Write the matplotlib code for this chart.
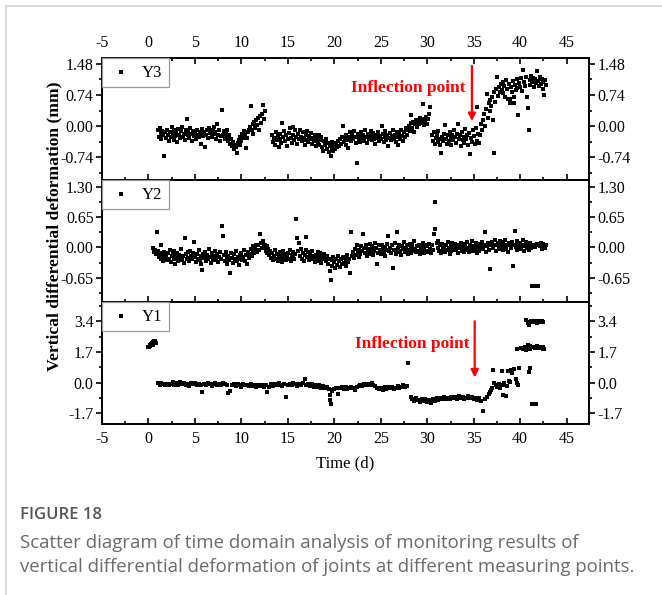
import matplotlib.pyplot as plt
from matplotlib.lines import Line2D
from matplotlib.ticker import MultipleLocator, FixedLocator, FormatStrFormatter

plt.rcParams['font.family'] = ['Liberation Serif', 'DejaVu Serif']
plt.rcParams['axes.unicode_minus'] = False

# ---- Y3 (top panel) ----
t_y3 = [
    1.0, 1.1, 1.2, 1.3, 1.4, 1.5, 1.6, 1.7, 1.8, 1.9,
    2.0, 2.1, 2.2, 2.3, 2.4, 2.5, 2.6, 2.7, 2.8, 2.9,
    3.0, 3.1, 3.2, 3.3, 3.4, 3.5, 3.6, 3.7, 3.8, 3.9,
    4.0, 4.1, 4.2, 4.3, 4.4, 4.5, 4.6, 4.7, 4.8, 4.9,
    5.0, 5.1, 5.2, 5.3, 5.4, 5.5, 5.6, 5.7, 5.8, 5.9,
    6.0, 6.1, 6.2, 6.3, 6.4, 6.5, 6.6, 6.7, 6.8, 6.9,
    7.0, 7.1, 7.2, 7.3, 7.4, 7.5, 7.6, 7.7, 7.8, 7.9,
    8.0, 8.1, 8.2, 8.3, 8.4, 8.5, 8.6, 8.7, 8.8, 8.9,
    9.0, 9.1, 9.2, 9.3, 9.4, 9.5, 9.6, 9.7, 9.8, 9.9,
    10.0, 10.1, 10.2, 10.3, 10.4, 10.5, 10.6, 10.7, 10.8, 10.9,
    11.0, 11.1, 11.2, 11.3, 11.4, 11.5, 11.6, 11.7, 11.8, 11.9,
    12.0, 12.1, 12.2, 12.3, 12.4, 12.5,
    13.3, 13.4, 13.5, 13.6, 13.7, 13.8, 13.9,
    14.0, 14.1, 14.2, 14.3, 14.4, 14.5, 14.6, 14.7, 14.8, 14.9,
    15.0, 15.1, 15.2, 15.3, 15.4, 15.5, 15.6, 15.7, 15.8, 15.9,
    16.0, 16.1, 16.2, 16.3, 16.4, 16.5, 16.6, 16.7, 16.8, 16.9,
    17.0, 17.1, 17.2, 17.3, 17.4, 17.5, 17.6, 17.7, 17.8, 17.9,
    18.0, 18.1, 18.2, 18.3, 18.4, 18.5, 18.6, 18.7, 18.8, 18.9,
    19.0, 19.1, 19.2, 19.3, 19.4, 19.5, 19.6, 19.7, 19.8, 19.9,
    20.0, 20.1, 20.2, 20.3, 20.4, 20.5, 20.6, 20.7, 20.8, 20.9,
    21.0, 21.1, 21.2, 21.3, 21.4, 21.5, 21.6, 21.7, 21.8, 21.9,
    22.0, 22.1, 22.2, 22.3, 22.4, 22.5, 22.6, 22.7, 22.8, 22.9,
    23.0, 23.1, 23.2, 23.3, 23.4, 23.5, 23.6, 23.7, 23.8, 23.9,
    24.0, 24.1, 24.2, 24.3, 24.4, 24.5, 24.6, 24.7, 24.8, 24.9,
    25.0, 25.1, 25.2, 25.3, 25.4, 25.5, 25.6, 25.7, 25.8, 25.9,
    26.0, 26.1, 26.2, 26.3, 26.4, 26.5, 26.6, 26.7, 26.8, 26.9,
    27.0, 27.1, 27.2, 27.3, 27.4, 27.5, 27.6, 27.7, 27.8, 27.9,
    28.0, 28.1, 28.2, 28.3, 28.4, 28.5, 28.6, 28.7, 28.8, 28.9,
    29.0, 29.1, 29.2, 29.3, 29.4, 29.5, 29.6, 29.7, 29.8, 29.9,
    30.0, 30.1, 30.2, 30.3,
    30.5, 30.6, 30.7, 30.8, 30.9,
    31.0, 31.1, 31.2, 31.3, 31.4, 31.5, 31.6, 31.7, 31.8, 31.9,
    32.0, 32.1, 32.2, 32.3, 32.4, 32.5, 32.6, 32.7, 32.8, 32.9,
    33.0, 33.1, 33.2, 33.3, 33.4, 33.5, 33.6, 33.7, 33.8, 33.9,
    34.0, 34.1, 34.2, 34.3, 34.4, 34.5, 34.6, 34.7, 34.8, 34.9,
    35.0, 35.1, 35.2, 35.3, 35.4, 35.5, 35.6,
    35.7, 35.8, 35.9, 36.0, 36.1, 36.2, 36.3, 36.4, 36.5, 36.6,
    36.7, 36.8, 36.9, 37.0, 37.1, 37.15, 37.2, 37.3, 37.4, 37.5,
    37.6, 37.7, 37.8, 37.9,
    38.0, 38.1, 38.2, 38.3, 38.4, 38.5, 38.6, 38.7, 38.8, 38.9,
    39.0, 39.1, 39.2, 39.3, 39.4, 39.5, 39.6, 39.7, 39.8, 39.9,
    40.0, 40.1, 40.2, 40.3, 40.4, 40.5, 40.6, 40.7, 40.8, 40.9,
    41.0, 41.1, 41.2, 41.3, 41.4, 41.5, 41.6, 41.7, 41.8, 41.9,
    42.0, 42.1, 42.2, 42.3, 42.4, 42.5, 42.6, 42.7, 42.8,
    38.95, 39.35,
]
v_y3 = [
    -0.10, -0.25, -0.05, -0.18, -0.30, -0.12, -0.22, -0.71, -0.15, -0.28,
    -0.08, -0.20, -0.35, -0.14, -0.26, -0.03, -0.19, -0.32, -0.10, -0.24,
    -0.16, -0.38, -0.06, -0.21, -0.29, -0.12, -0.02, -0.25, -0.18, -0.33,
    -0.09, 0.18, -0.22, -0.14, -0.27, -0.05, -0.19, -0.36, -0.11, -0.23,
    -0.16, -0.30, -0.08, -0.20, -0.26, -0.13, -0.42, -0.18, -0.07, -0.24,
    -0.15, -0.50, -0.21, -0.10, -0.28, -0.04, -0.17, -0.12, -0.25, -0.08,
    -0.19, -0.02, -0.14, -0.30, 0.05, -0.20, -0.10, -0.35, -0.24, 0.38,
    -0.22, -0.12, -0.30, -0.18, -0.08, -0.26, -0.35, -0.20, -0.42, -0.30,
    -0.48, -0.38, -0.55, -0.44, -0.50, -0.63, -0.40, -0.32, -0.45, -0.25,
    -0.35, -0.18, -0.28, -0.12, -0.22, -0.52, -0.28, -0.15, -0.10, -0.02,
    0.47, -0.10, 0.05, -0.18, 0.10, -0.05, 0.14, 0.02, 0.20, -0.08,
    0.25, 0.08, 0.30, 0.50, 0.18, 0.35,
    -0.20, -0.38, -0.28, -0.45, -0.15, -0.32, -0.24,
    -0.50, -0.30, -0.18, -0.40, 0.07, -0.26, -0.12, -0.35, -0.22, -0.48,
    -0.30, -0.16, -0.05, -0.28, -0.40, -0.02, -0.20, -0.33, -0.10, -0.25,
    -0.42, -0.18, -0.30, -0.08, -0.26, -0.36, -0.14, -0.28, -0.45, -0.20,
    -0.32, -0.12, -0.38, -0.24, -0.30, -0.16, -0.42, -0.27, -0.35, -0.20,
    -0.48, -0.30, -0.38, -0.22, -0.44, -0.33, -0.26, -0.50, -0.59, -0.36,
    -0.45, -0.30, -0.55, -0.40, -0.62, -0.48, -0.70, -0.52, -0.38, -0.60,
    -0.45, -0.55, -0.40, -0.50, -0.35, -0.46, -0.30, -0.42, -0.25, 0.00,
    -0.38, -0.28, -0.44, -0.20, -0.34, -0.52, -0.26, -0.15, -0.36, -0.22,
    -0.30, -0.12, -0.26, -0.40, -0.88, -0.18, -0.32, -0.24, -0.38, -0.14,
    -0.28, -0.20, -0.35, -0.10, -0.26, -0.40, -0.18, -0.30, -0.22, -0.12,
    -0.34, -0.25, -0.16, -0.30, -0.42, -0.20, -0.28, -0.14, -0.36, -0.24,
    -0.30, 0.00, -0.18, -0.38, -0.26, -0.12, -0.32, -0.22, -0.46, -0.28,
    -0.16, -0.34, -0.24, -0.10, -0.30, -0.20, -0.38, -0.14, -0.26, -0.44,
    -0.18, -0.30, -0.08, -0.24, -0.36, -0.15, -0.26, -0.05, -0.20, -0.10,
    0.00, -0.12, 0.08, 0.26, -0.05, 0.10, -0.15, 0.04, 0.15, -0.02,
    0.12, 0.05, 0.20, 0.08, 0.14, 0.52, 0.02, 0.18, 0.10, 0.22,
    0.06, 0.16, 0.30, 0.45,
    -0.22, -0.35, -0.15, -0.42, -0.28,
    -0.20, -0.38, -0.12, -0.30, -0.45, -0.63, -0.25, -0.35, -0.18, 0.02,
    -0.30, -0.42, -0.22, -0.36, -0.15, -0.28, -0.45, -0.20, -0.32, -0.10,
    -0.26, -0.40, -0.18, 0.05, -0.30, -0.22, -0.48, -0.14, -0.34, -0.26,
    -0.40, -0.06, -0.30, -0.20, -0.44, -0.16, -0.67, -0.28, -0.38, -0.10,
    -0.24, -0.42, -0.05, -0.35, 0.45, -0.18, -0.40,
    -0.20, 0.05, -0.10, 0.14, 0.30, 0.00, 0.40, 0.76, 0.20, 0.55,
    0.35, 0.62, 0.48, 0.70, 0.14, -0.65, 0.80, 0.58, 0.88, 1.17,
    0.72, 0.92, 0.82, 1.00,
    0.85, 1.05, 0.78, 0.95, 0.70, 1.10, 0.88, 0.65, 1.00, 0.65,
    0.92, 0.80, 1.08, 0.55, 0.98, 0.86, 1.12, 0.90, 0.26, 1.02,
    0.94, 1.15, 0.84, 1.34, 1.05, 0.95, 1.18, 0.70, 0.43, -0.10,
    1.10, 0.98, 1.20, 1.05, 1.15, 0.92, 1.12, 1.02, 1.30, 1.08,
    0.95, 1.16, 1.00, 1.12, 0.88, 1.05, 0.75, 1.10, 0.98,
    0.55, 0.70,
]

# ---- Y2 (middle panel) ----
t_y2 = [
    0.5, 0.6, 0.7, 0.8, 0.9,
    1.0, 1.1, 1.2, 1.3, 1.4, 1.5, 1.6, 1.7, 1.8, 1.9,
    2.0, 2.1, 2.2, 2.3, 2.4, 2.5, 2.6, 2.7, 2.8, 2.9,
    3.0, 3.1, 3.2, 3.3, 3.4, 3.5, 3.6, 3.7, 3.8, 3.9,
    4.0, 4.1, 4.2, 4.3, 4.4, 4.5, 4.6, 4.7, 4.8, 4.9,
    5.0, 5.1, 5.2, 5.3, 5.4, 5.5, 5.6, 5.7, 5.8, 5.9,
    6.0, 6.1, 6.2, 6.3, 6.4, 6.5, 6.6, 6.7, 6.8, 6.9,
    7.0, 7.1, 7.2, 7.3, 7.4, 7.5, 7.6, 7.7, 7.8, 7.9,
    8.0, 8.1, 8.2, 8.3, 8.4, 8.5, 8.6, 8.7, 8.8, 8.9,
    9.0, 9.1, 9.2, 9.3, 9.4, 9.5, 9.6, 9.7, 9.8, 9.9,
    10.0, 10.1, 10.2, 10.3, 10.4, 10.5, 10.6, 10.7, 10.8, 10.9,
    11.0, 11.1, 11.2, 11.3, 11.4, 11.5, 11.6, 11.7, 11.8, 11.9,
    12.0, 12.1, 12.2, 12.3, 12.4, 12.5, 12.6, 12.7, 12.8, 12.9,
    13.0, 13.1, 13.2, 13.3, 13.4, 13.5, 13.6, 13.7, 13.8, 13.9,
    14.0, 14.1, 14.2, 14.3, 14.4, 14.5, 14.6, 14.7, 14.8, 14.9,
    15.0, 15.1, 15.2, 15.3, 15.4, 15.5, 15.6, 15.7, 15.8, 15.9,
    16.0, 16.1, 16.2, 16.3, 16.4, 16.5, 16.6, 16.7, 16.8, 16.9,
    17.0, 17.1, 17.2, 17.3, 17.4, 17.5, 17.6, 17.7, 17.8, 17.9,
    18.0, 18.1, 18.2, 18.3, 18.4, 18.5, 18.6, 18.7, 18.8, 18.9,
    19.0, 19.1, 19.2, 19.3, 19.4, 19.5, 19.6, 19.7, 19.8, 19.9,
    20.0, 20.1, 20.2, 20.3, 20.4, 20.5, 20.6, 20.7, 20.8, 20.9,
    21.0, 21.1, 21.2, 21.3, 21.4, 21.5, 21.6, 21.7, 21.8, 21.9,
    22.0, 22.1, 22.2, 22.3, 22.4, 22.5, 22.6, 22.7, 22.8, 22.9,
    23.0, 23.1, 23.2, 23.3, 23.4, 23.5, 23.6, 23.7, 23.8, 23.9,
    24.0, 24.1, 24.2, 24.3, 24.4, 24.5, 24.6, 24.7, 24.8, 24.9,
    25.0, 25.1, 25.2, 25.3, 25.4, 25.5, 25.6, 25.7, 25.8, 25.9,
    26.0, 26.1, 26.2, 26.3, 26.4, 26.5, 26.6, 26.7, 26.8, 26.9,
    27.0, 27.1, 27.2, 27.3, 27.4, 27.5, 27.6, 27.7, 27.8, 27.9,
    28.0, 28.1, 28.2, 28.3, 28.4, 28.5, 28.6, 28.7, 28.8, 28.9,
    29.0, 29.1, 29.2, 29.3, 29.4, 29.5, 29.6, 29.7, 29.8, 29.9,
    30.0, 30.1, 30.2, 30.3, 30.4, 30.5, 30.6, 30.7, 30.8, 30.85,
    31.0, 31.1, 31.2, 31.3, 31.4, 31.5, 31.6, 31.7, 31.8, 31.9,
    32.0, 32.1, 32.2, 32.3, 32.4, 32.5, 32.6, 32.7, 32.8, 32.9,
    33.0, 33.1, 33.2, 33.3, 33.4, 33.5, 33.6, 33.7, 33.8, 33.9,
    34.0, 34.1, 34.2, 34.3, 34.4, 34.5, 34.6, 34.7, 34.8, 34.9,
    35.0, 35.1, 35.2, 35.3, 35.4, 35.5, 35.6, 35.7, 35.8, 35.9,
    36.0, 36.1, 36.2, 36.3, 36.4, 36.5, 36.6, 36.7, 36.8, 36.9,
    37.0, 37.1, 37.2, 37.3, 37.4, 37.5, 37.6, 37.7, 37.8, 37.9,
    38.0, 38.1, 38.2, 38.3, 38.4, 38.5, 38.6, 38.7, 38.8, 38.9,
    39.0, 39.1, 39.2, 39.3, 39.4, 39.5, 39.6, 39.7, 39.8, 39.9,
    40.0, 40.1, 40.2, 40.3, 40.4, 40.5, 40.6, 40.7, 40.8, 40.9,
    41.0, 41.1, 41.2, 41.3, 41.4, 41.5, 41.6, 41.7, 41.8, 41.9,
    42.0, 42.1, 42.2, 42.3, 42.4, 42.5, 42.6, 42.7, 42.8,
]
v_y2 = [
    -0.02, -0.10, -0.05, -0.15, 0.32,
    -0.08, -0.20, -0.12, 0.05, -0.25, -0.16, -0.30, -0.10, -0.22, -0.18,
    -0.28, -0.12, -0.24, -0.06, -0.32, -0.18, -0.14, -0.26, -0.08, -0.35,
    -0.20, -0.12, -0.30, -0.16, -0.24, -0.04, -0.28, -0.18, -0.34, 0.20,
    -0.14, -0.26, -0.10, -0.22, -0.30, -0.08, -0.18, -0.25, -0.12, 0.12,
    -0.20, -0.32, -0.15, -0.24, -0.06, -0.28, -0.18, -0.36, -0.49, -0.14,
    -0.22, -0.10, -0.30, -0.16, -0.26, -0.04, -0.20, -0.34, -0.12, -0.24,
    -0.18, -0.28, -0.08, -0.22, -0.14, -0.32, -0.20, -0.10, -0.26, 0.46,
    0.25, -0.16, -0.30, -0.10, -0.24, -0.36, -0.18, -0.28, -0.56, -0.12,
    -0.22, -0.34, -0.14, -0.26, -0.08, -0.30, -0.20, -0.38, -0.16, -0.24,
    -0.12, -0.28, -0.20, -0.06, -0.30, -0.16, -0.36, -0.10, -0.22, -0.14,
    -0.04, -0.18, -0.08, 0.02, -0.12, -0.02, 0.06, -0.10, 0.04, -0.06,
    0.28, 0.10, -0.02, 0.14, 0.00, 0.06, -0.08, 0.02, -0.12, -0.04,
    -0.16, -0.08, -0.22, -0.12, -0.28, -0.18, -0.06, -0.24, -0.14, -0.30,
    -0.20, -0.10, -0.26, -0.16, -0.32, -0.08, -0.22, -0.14, -0.28, -0.18,
    -0.12, -0.24, -0.06, -0.30, -0.16, -0.20, -0.10, -0.26, -0.14, 0.60,
    0.20, -0.08, 0.10, -0.18, -0.04, -0.24, -0.12, -0.30, -0.16, -0.06,
    0.22, -0.20, -0.10, -0.28, -0.14, -0.22, -0.08, -0.26, -0.18, -0.32,
    -0.16, -0.24, -0.10, -0.30, -0.20, -0.12, -0.34, -0.18, -0.26, -0.14,
    -0.22, -0.30, -0.18, -0.36, -0.26, -0.51, -0.69, -0.28, -0.40, -0.20,
    -0.32, -0.44, -0.24, -0.38, -0.18, -0.30, -0.42, -0.26, -0.36, -0.20,
    -0.34, -0.22, -0.40, -0.28, -0.16, -0.32, -0.24, -0.55, 0.32, -0.18,
    -0.10, -0.22, -0.04, -0.16, 0.04, -0.12, -0.20, -0.06, -0.14, 0.02,
    -0.08, 0.28, -0.02, -0.12, 0.06, -0.18, -0.04, -0.10, 0.08, -0.14,
    -0.06, 0.02, -0.16, -0.08, 0.10, -0.02, -0.35, -0.12, 0.04, -0.06,
    -0.14, 0.06, -0.04, -0.10, 0.00, -0.18, -0.06, 0.08, 0.25, -0.08,
    -0.02, -0.12, 0.04, -0.44, -0.06, 0.10, -0.14, 0.33, -0.02, -0.10,
    0.06, -0.08, -0.16, 0.02, -0.04, 0.12, -0.10, -0.02, 0.04, -0.14,
    -0.06, 0.08, -0.02, -0.12, 0.04, -0.08, 0.14, -0.04, -0.10, 0.02,
    -0.08, 0.06, -0.14, 0.00, -0.06, 0.10, -0.02, -0.12, 0.04, -0.08,
    0.02, -0.10, 0.08, -0.04, -0.12, 0.06, -0.06, 0.28, 0.96, 0.40,
    0.10, -0.02, 0.14, -0.08, 0.04, -0.12, 0.08, -0.04, 0.02, -0.10,
    0.06, -0.06, 0.12, -0.02, -0.14, 0.04, -0.08, 0.10, 0.00, -0.06,
    0.08, -0.04, 0.02, -0.12, 0.06, -0.02, 0.10, -0.08, 0.04, -0.10,
    0.00, 0.08, -0.06, 0.12, -0.02, -0.10, 0.06, -0.04, 0.14, -0.08,
    0.02, -0.06, 0.10, -0.12, 0.04, 0.00, -0.08, 0.08, -0.02, 0.12,
    -0.04, 0.06, 0.32, -0.10, 0.02, 0.10, -0.06, 0.04, -0.47, 0.08,
    0.12, -0.02, 0.06, 0.16, -0.08, 0.04, 0.10, -0.04, 0.14, 0.00,
    0.08, -0.06, 0.12, 0.02, 0.16, -0.04, 0.06, -0.10, 0.10, 0.04,
    -0.02, 0.12, -0.40, 0.06, 0.35, 0.00, 0.14, -0.06, 0.08, 0.02,
    0.10, -0.04, 0.06, 0.16, -0.08, 0.02, 0.12, -0.02, 0.08, -0.06,
    0.04, 0.10, -0.02, -0.82, 0.06, -0.82, 0.00, -0.82, 0.08, -0.82,
    0.06, 0.02, 0.10, -0.04, 0.08, 0.00, 0.06, -0.02, 0.04,
]

# ---- Y1 (bottom panel) ----
t_y1 = [
    0.0, 0.1, 0.15, 0.2, 0.3, 0.4, 0.45, 0.5, 0.6, 0.7, 0.8,
    1.0, 1.2, 1.4, 1.6, 1.8, 2.0, 2.2, 2.4, 2.6, 2.8,
    3.0, 3.2, 3.4, 3.6, 3.8, 4.0, 4.2, 4.4, 4.6, 4.8,
    5.0, 5.2, 5.4, 5.6, 5.8, 6.0, 6.2, 6.4, 6.6, 6.8,
    7.0, 7.2, 7.4, 7.6, 7.8, 8.0, 8.2, 8.4, 8.6, 8.8,
    9.0, 9.2, 9.4, 9.6, 9.8, 10.0, 10.2, 10.4, 10.6, 10.8,
    11.0, 11.2, 11.4, 11.6, 11.8, 12.0, 12.2, 12.4, 12.6, 12.8,
    13.0, 13.2, 13.4, 13.6, 13.8, 14.0, 14.2, 14.4, 14.6, 14.8,
    15.0, 15.2, 15.4, 15.6, 15.8, 16.0, 16.2, 16.4, 16.6, 16.8,
    17.0, 17.2, 17.4, 17.6, 17.8, 18.0, 18.2, 18.4, 18.6, 18.8,
    19.0, 19.2, 19.4, 19.5, 19.55, 19.6, 19.7, 19.8,
    20.0, 20.2, 20.4, 20.6, 20.8, 21.0, 21.2, 21.4, 21.6, 21.8,
    22.0, 22.2, 22.4, 22.6, 22.8, 23.0, 23.2, 23.4, 23.6, 23.8,
    24.0, 24.2, 24.4, 24.6, 24.8, 25.0, 25.2, 25.4, 25.6, 25.8,
    26.0, 26.2, 26.4, 26.6, 26.8, 27.0, 27.2, 27.4, 27.6, 27.8,
    27.9,
    28.2, 28.4, 28.6, 28.8, 29.0, 29.2, 29.4, 29.6, 29.8, 30.0,
    30.2, 30.4, 30.6, 30.8, 31.0, 31.2, 31.4, 31.6, 31.8, 32.0,
    32.2, 32.4, 32.6, 32.8, 33.0, 33.2, 33.4, 33.6, 33.8, 34.0,
    34.2, 34.4, 34.6, 34.8, 35.0, 35.2, 35.4, 35.6, 35.8, 36.0,
    36.2, 36.4, 36.6, 36.8, 36.9,
    37.0, 37.1, 37.2, 37.4, 37.5, 37.7, 37.8, 38.0, 38.1, 38.2,
    38.3, 38.5, 38.6, 38.7, 38.8, 38.9, 39.0, 39.1, 39.3, 39.5,
    39.6, 39.7, 39.8, 39.9, 40.1, 40.3,
    40.6, 40.8, 40.9, 41.0, 41.2, 41.4, 41.6, 41.8, 42.0, 42.1,
    42.3, 42.5,
    40.5, 40.6, 40.7, 40.8, 40.9, 41.0, 41.1, 41.2, 41.4, 41.6,
    41.8, 42.0, 42.2, 42.4, 42.5, 42.6,
    41.05, 40.95, 41.3, 41.5, 41.7,
]
v_y1 = [
    2.00, 1.98, 2.05, 2.08, 2.12, 2.18, 2.10, 2.25, 2.30, 2.28, 2.20,
    -0.05, -0.12, -0.02, -0.10, -0.16, -0.06, -0.14, -0.08, 0.02, -0.12,
    -0.04, -0.15, 0.04, -0.08, -0.02, -0.12, -0.06, -0.18, -0.04, -0.10,
    -0.02, -0.14, -0.08, -0.16, -0.50, -0.06, -0.12, -0.02, -0.10, -0.18,
    -0.08, -0.04, -0.14, -0.06, -0.12, -0.02, -0.10, -0.16, -0.60, -0.45,
    -0.12, -0.06, -0.18, -0.10, -0.14, -0.22, -0.08, -0.16, -0.12, -0.20,
    -0.10, -0.18, -0.14, -0.24, -0.12, -0.20, -0.16, -0.26, -0.14, -0.50,
    -0.22, -0.10, -0.18, -0.08, -0.16, -0.04, -0.12, -0.20, -0.10, -0.82,
    -0.16, -0.06, -0.14, -0.02, -0.10, -0.18, -0.08, -0.14, -0.04, 0.17,
    -0.12, -0.06, -0.18, -0.10, -0.22, -0.14, -0.24, -0.16, -0.28, -0.20,
    -0.30, -0.22, -0.34, -0.67, -0.95, -1.17, -0.48, -0.40,
    -0.36, -0.28, -0.61, -0.32, -0.24, -0.34, -0.26, -0.38, -0.30, -0.22,
    -0.32, -0.40, -0.26, -0.18, -0.14, -0.20, -0.10, -0.16, -0.06, -0.12,
    -0.04, -0.14, -0.20, -0.28, -0.36, -0.30, -0.40, -0.26, -0.34, -0.24,
    -0.32, -0.22, -0.36, -0.28, -0.20, -0.30, -0.24, -0.16, -0.26, -0.20,
    1.10,
    -0.78, -0.92, -1.02, -0.86, -0.96, -1.06, -0.90, -1.00, -0.94, -1.08,
    -0.98, -1.12, -0.92, -1.02, -0.86, -0.96, -0.84, -0.92, -0.80, -0.90,
    -0.84, -0.94, -0.78, -0.88, -0.82, -0.92, -0.76, -0.86, -0.80, -0.94,
    -0.84, -0.74, -0.88, -0.80, -0.92, -0.84, -0.96, -0.86, -1.00, -1.60,
    -0.90, -0.80, -0.62, -0.55, -0.40,
    -0.30, 0.67, -0.05, -0.15, -0.25, -0.10, -0.30, 0.63, -0.15, -0.67,
    -0.05, -0.72, -0.20, 0.65, 0.10, 0.03, 0.72, 0.55, 0.75, 0.17,
    1.84, -0.05, -0.15, 0.80, 1.90, 1.84,
    3.45, 3.30, 3.20, 3.38, 3.42, 3.35, 3.40, 3.32, 3.44, 3.36,
    3.40, 3.38,
    2.00, 1.80, 1.95, 2.10, 1.90, 2.05, 1.85, 2.00, 1.95, 1.90,
    2.02, 1.92, 1.98, 1.88, 1.95, 1.86,
    0.83, 0.60, -1.17, -1.17, -1.17,
]

panels = [
    ("Y3", t_y3, v_y3, (-1.28, 1.62), [-0.74, 0.0, 0.74, 1.48], [-1.11, -0.37, 0.37, 1.11], "%.2f"),
    ("Y2", t_y2, v_y2, (-1.17, 1.44), [-0.65, 0.0, 0.65, 1.30], [-0.975, -0.325, 0.325, 0.975], "%.2f"),
    ("Y1", t_y1, v_y1, (-2.3, 4.47), [-1.7, 0.0, 1.7, 3.4], [-0.85, 0.85, 2.55, 4.25], "%.1f"),
]

W, H = 662, 595
fig = plt.figure(figsize=(W / 100, H / 100), dpi=100)

left, right = 102 / W, 589 / W
tops = [58, 180, 302]
ph = 122
axes = []
for i, (name, t, v, ylim, yt, ymt, fmt) in enumerate(panels):
    ax = fig.add_axes([left, 1 - (tops[i] + ph) / H, right - left, ph / H])
    ax.scatter(t, v, s=5, marker="s", color="black", linewidths=0, label=name)
    ax.set_xlim(-5, 47.4)
    ax.set_ylim(*ylim)
    ax.xaxis.set_major_locator(MultipleLocator(5))
    ax.xaxis.set_minor_locator(MultipleLocator(2.5))
    ax.yaxis.set_major_locator(FixedLocator(yt))
    ax.yaxis.set_minor_locator(FixedLocator(ymt))
    ax.yaxis.set_major_formatter(FormatStrFormatter(fmt))
    for sp in ax.spines.values():
        sp.set_linewidth(1.4)
    ax.tick_params(axis="x", which="both", direction="in", bottom=True, top=(i == 0),
                   labelbottom=(i == 2), labeltop=(i == 0), width=1.2, labelsize=11.5, pad=5)
    ax.tick_params(axis="x", which="major", length=4)
    ax.tick_params(axis="x", which="minor", length=2.5)
    ax.tick_params(axis="y", which="both", direction="out", left=True, right=True,
                   labelleft=True, labelright=True, width=1.2, labelsize=11.5, pad=2)
    ax.tick_params(axis="y", which="major", length=4)
    ax.tick_params(axis="y", which="minor", length=2.5)
    leg = ax.legend(loc="upper left", borderaxespad=0, fancybox=False, framealpha=1,
                    edgecolor="#9a9a9a", fontsize=12, handletextpad=0.5, borderpad=0.4,
                    markerscale=1.6, handlelength=1.5)
    leg.get_frame().set_linewidth(0.9)
    axes.append(ax)

# inflection annotations
for ax, x_arr, y_top, y_tip, tx, ty in [(axes[0], 34.8, 1.43, 0.12, 27.9, 0.91),
                                         (axes[2], 35.1, 3.4, 0.28, 28.4, 2.12)]:
    ax.annotate("", xy=(x_arr, y_tip), xytext=(x_arr, y_top),
                arrowprops=dict(arrowstyle="-|>", color="red", lw=1.6, mutation_scale=11,
                                shrinkA=0, shrinkB=0))
    ax.text(tx, ty, "Inflection point", color="red", fontsize=12.5, fontweight="bold",
            ha="center", va="center")

fig.text(54 / W, 1 - 226 / H, "Vertical differential deformation (mm)", rotation=90,
         ha="center", va="center", fontsize=12.6, fontweight="bold")
fig.text(345 / W, 1 - 463 / H, "Time (d)", ha="center", va="center", fontsize=12)

# caption block
cap = ["Open Sans", "DejaVu Sans"]
fig.text(20 / W, 1 - 515 / H, "FIGURE 18", ha="left", va="center", fontsize=12,
         fontweight="semibold", color="#555555", family=cap)
fig.text(20 / W, 1 - 543 / H, "Scatter diagram of time domain analysis of monitoring results of",
         ha="left", va="center", fontsize=13.4, color="#6a6a6a", family=cap)
fig.text(20 / W, 1 - 567 / H, "vertical differential deformation of joints at different measuring points.",
         ha="left", va="center", fontsize=13.4, color="#6a6a6a", family=cap)

# card border
fig.add_artist(Line2D([6 / W, 1], [1 - 6 / H, 1 - 6 / H], color="#d4d4d4", lw=1.2))
fig.add_artist(Line2D([6 / W, 6 / W], [0, 1 - 6 / H], color="#d4d4d4", lw=1.2))

fig.savefig("out.png", dpi=100)
